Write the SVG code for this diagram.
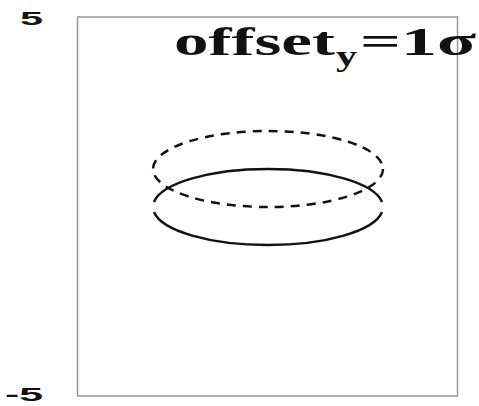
<svg xmlns="http://www.w3.org/2000/svg" width="479" height="406" viewBox="0 0 479 406">
<style>
.ax{font-family:"Liberation Sans",Arial,sans-serif;font-weight:bold;font-size:18px;fill:#111}
.t{font-family:"Liberation Serif","Times New Roman",serif;font-weight:bold;fill:#111}
.e{fill:none;stroke:#111;stroke-width:2.5}
</style>
<rect width="479" height="406" fill="#fff"/>
<rect id="frame" x="77.5" y="17" width="380" height="379" fill="none" stroke="#999" stroke-width="1.5"/>
<g id="labels">
<text class="ax" x="20" y="25" textLength="23" lengthAdjust="spacingAndGlyphs">5</text>
<text class="ax" x="5" y="401" textLength="38" lengthAdjust="spacingAndGlyphs">-5</text>
</g>
<g id="title">
<text class="t" x="174" y="55" font-size="40" textLength="161" lengthAdjust="spacingAndGlyphs">offset</text>
<text class="t" x="336" y="66" font-size="30" textLength="21" lengthAdjust="spacingAndGlyphs">y</text>
<text class="t" x="360" y="55" font-size="40" textLength="116" lengthAdjust="spacingAndGlyphs">=1σ</text>
</g>
<g id="ellipses">
<ellipse class="e" cx="268" cy="169" rx="115" ry="38" stroke-dasharray="9,7"/>
<path class="e" d="M154,202 A115,38 0 0 1 382,202"/>
<path class="e" d="M382,212 A115,38 0 0 1 154,212"/>
</g>
</svg>
